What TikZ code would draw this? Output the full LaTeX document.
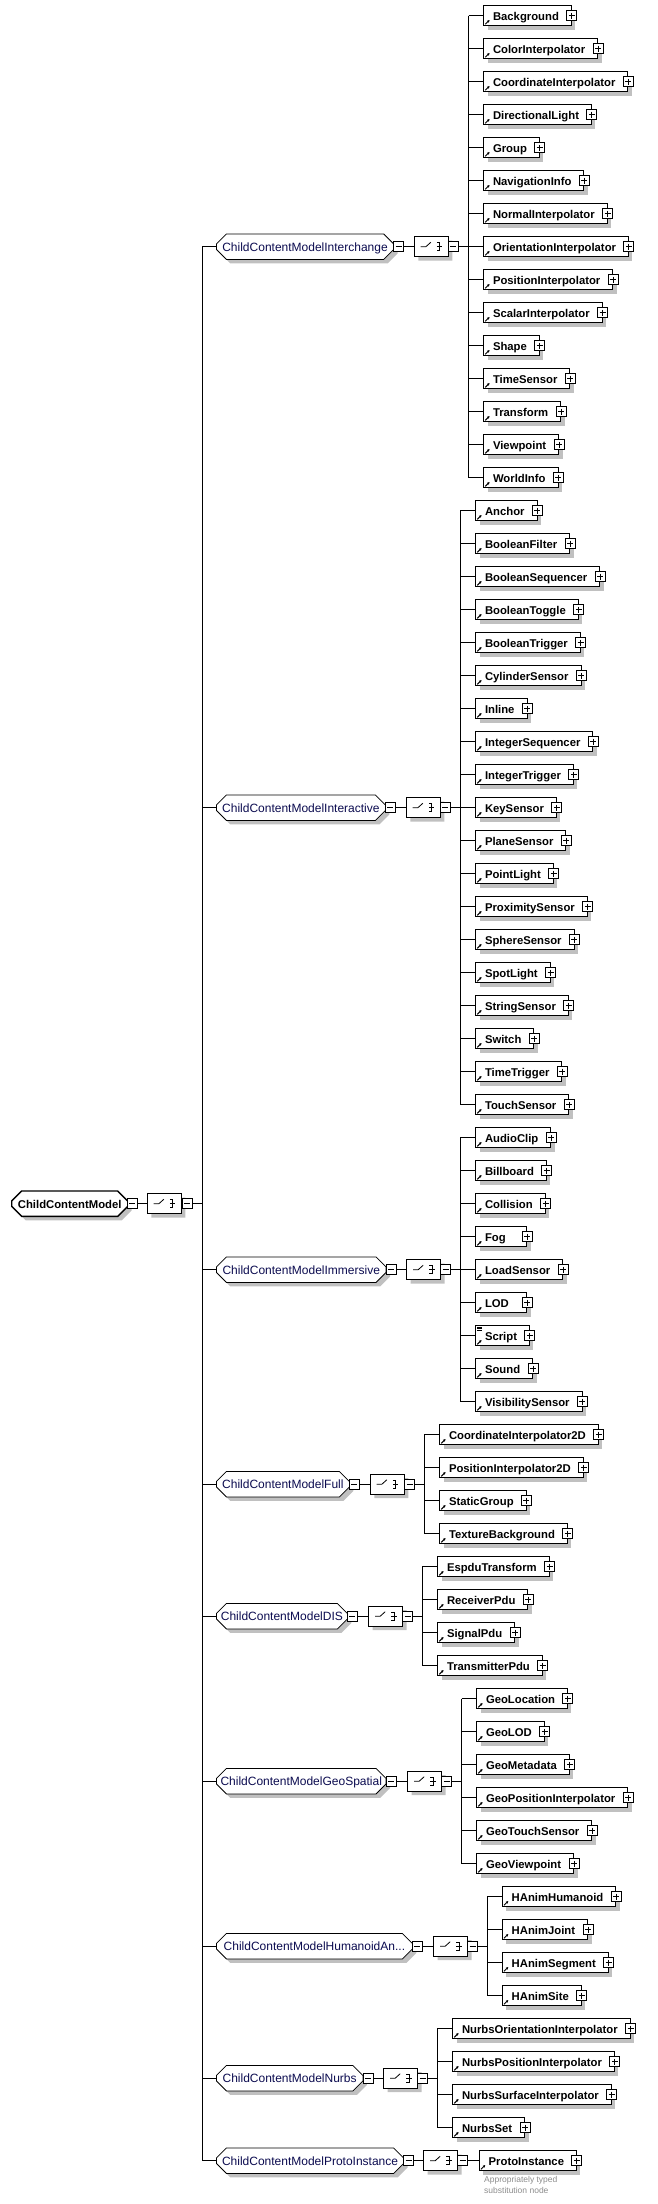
\documentclass[tikz,border=0pt]{standalone}
\usepackage{fontspec}
\setmainfont{Liberation Sans}
\usetikzlibrary{shapes.misc,shadows,arrows.meta,calc}
\definecolor{grptext}{RGB}{12,12,80}
\definecolor{shadegray}{RGB}{192,192,192}
\newsavebox\elembox
\newcommand\elemname[1]{\sbox\elembox{#1}\ifdim\wd\elembox<29.3pt\makebox[29.3pt][l]{#1}\else\usebox\elembox\fi\kern3.1pt}
\tikzset{
  boxshadow/.style={drop shadow={shadow xshift=4pt, shadow yshift=-4pt, fill=shadegray, opacity=1}},
  conn/.style={line width=.8pt},
  plusbox/.style={draw, line width=.8pt, fill=white, minimum size=10pt, inner sep=0pt,
    path picture={\draw[line width=.8pt] ([xshift=2pt]path picture bounding box.west) -- ([xshift=-2pt]path picture bounding box.east)
      ([yshift=-2pt]path picture bounding box.north) -- ([yshift=2pt]path picture bounding box.south);}},
  minusbox/.style={draw, line width=.8pt, fill=white, minimum size=10pt, inner sep=0pt, anchor=west,
    path picture={\draw[line width=.8pt] ([xshift=2pt]path picture bounding box.west) -- ([xshift=-2pt]path picture bounding box.east);}},
  elem/.style={draw, line width=.8pt, fill=white, boxshadow, anchor=west,
    minimum height=20pt, inner xsep=9.3pt, inner ysep=0pt, text height=11.4pt, text depth=2pt,
    font=\fontsize{11.3}{13}\selectfont\bfseries,
    path picture={\draw[line width=.9pt, -{Latex[length=2.6pt, width=2.8pt]}]
      ([shift={(1.6pt,1.4pt)}]path picture bounding box.south west) -- ++(4.4pt,4.4pt);},
    append after command={node[plusbox] (\tikzlastnode-plus) at (\tikzlastnode.east) {}}},
  grp/.style={chamfered rectangle, chamfered rectangle xsep=4pt, chamfered rectangle ysep=6pt,
    draw, line width=.8pt, fill=white, boxshadow, anchor=west, minimum width=#1, minimum height=20pt,
    inner sep=0pt, text height=11.4pt, text depth=2pt, font=\fontsize{12}{14}\selectfont, text=grptext},
  root/.style={grp=116pt, line width=1.4pt, text=black, font=\fontsize{11.3}{13}\selectfont\bfseries},
  comp/.style={chamfered rectangle, chamfered rectangle xsep=4pt, chamfered rectangle ysep=6pt,
    draw, line width=.8pt, fill=white, boxshadow, anchor=west, minimum width=34pt, minimum height=20pt, inner sep=0pt,
    path picture={
      \coordinate (cc) at (path picture bounding box.center);
      \draw[line width=.8pt] ($(cc)+(-10.7pt,0)$) -- ($(cc)+(-5.5pt,0)$) -- ($(cc)+(-.5pt,4.5pt)$);
      \fill ($(cc)+(2.5pt,2.6pt)$) rectangle ++(3pt,3pt);
      \fill ($(cc)+(2.5pt,-1.5pt)$) rectangle ++(3pt,3pt);
      \fill ($(cc)+(2.5pt,-5.6pt)$) rectangle ++(3pt,3pt);
      \draw[line width=.8pt] ($(cc)+(5.4pt,4.1pt)$) -- ($(cc)+(8.4pt,4.1pt)$) -- ($(cc)+(8.4pt,-4.1pt)$) -- ($(cc)+(5.4pt,-4.1pt)$)
        ($(cc)+(5.4pt,0)$) -- ($(cc)+(11pt,0)$);}},
  note/.style={anchor=north west, align=left, inner sep=0pt, text=black!45, font=\fontsize{8.5}{11}\selectfont}
}
\begin{document}
\begin{tikzpicture}[x=1pt, y=-1pt]
\useasboundingbox (0,0) rectangle (658,2204);

% root
\node[root] (ccm) at (11,1203.7) {ChildContentModel};
\node[minusbox] (ccm-m) at (127,1203.7) {};
\node[comp] (ccm-c) at (147,1203.7) {};
\node[minusbox] (ccm-cm) at (182,1203.7) {};
\coordinate (ccm-bus) at (202,1203.7);

% groups
\node[grp=177.3pt] (ic) at (216,246.7) {ChildContentModelInterchange};
\node[minusbox] (ic-m) at (393.3,246.7) {};
\node[comp] (ic-c) at (414,246.7) {};
\node[minusbox] (ic-cm) at (448,246.7) {};
\coordinate (ic-bus) at (468.7,246.7);

\node[grp=169pt] (ia) at (216,807.7) {ChildContentModelInteractive};
\node[minusbox] (ia-m) at (385,807.7) {};
\node[comp] (ia-c) at (406,807.7) {};
\node[minusbox] (ia-cm) at (440,807.7) {};
\coordinate (ia-bus) at (460.3,807.7);

\node[grp=169.7pt] (im) at (216,1269.7) {ChildContentModelImmersive};
\node[minusbox] (im-m) at (385.7,1269.7) {};
\node[comp] (im-c) at (406.3,1269.7) {};
\node[minusbox] (im-cm) at (440.3,1269.7) {};
\coordinate (im-bus) at (460.3,1269.7);

\node[grp=133pt] (fu) at (216,1484.2) {ChildContentModelFull};
\node[minusbox] (fu-m) at (349,1484.2) {};
\node[comp] (fu-c) at (370,1484.2) {};
\node[minusbox] (fu-cm) at (404.3,1484.2) {};
\coordinate (fu-bus) at (424.3,1484.2);

\node[grp=131pt] (dis) at (216,1616.2) {ChildContentModelDIS};
\node[minusbox] (dis-m) at (347,1616.2) {};
\node[comp] (dis-c) at (368.3,1616.2) {};
\node[minusbox] (dis-cm) at (402.3,1616.2) {};
\coordinate (dis-bus) at (422.3,1616.2);

\node[grp=169.7pt] (geo) at (216,1781.2) {ChildContentModelGeoSpatial};
\node[minusbox] (geo-m) at (385.7,1781.2) {};
\node[comp] (geo-c) at (407.3,1781.2) {};
\node[minusbox] (geo-cm) at (441.3,1781.2) {};
\coordinate (geo-bus) at (461.7,1781.2);

\node[grp=196pt] (ha) at (216,1946.2) {ChildContentModelHumanoidAn...};
\node[minusbox] (ha-m) at (412,1946.2) {};
\node[comp] (ha-c) at (433.3,1946.2) {};
\node[minusbox] (ha-cm) at (467.3,1946.2) {};
\coordinate (ha-bus) at (487,1946.2);

\node[grp=146.5pt] (nu) at (216,2078.2) {ChildContentModelNurbs};
\node[minusbox] (nu-m) at (362.5,2078.2) {};
\node[comp] (nu-c) at (383.3,2078.2) {};
\node[minusbox] (nu-cm) at (417.3,2078.2) {};
\coordinate (nu-bus) at (437.3,2078.2);

\node[grp=187.3pt] (pi) at (216,2160.7) {ChildContentModelProtoInstance};
\node[minusbox] (pi-m) at (403.3,2160.7) {};
\node[comp] (pi-c) at (423.3,2160.7) {};
\node[minusbox] (pi-cm) at (457.3,2160.7) {};

% elements
\foreach \t [count=\i from 0] in {Background,ColorInterpolator,CoordinateInterpolator,DirectionalLight,Group,NavigationInfo,NormalInterpolator,OrientationInterpolator,PositionInterpolator,ScalarInterpolator,Shape,TimeSensor,Transform,Viewpoint,WorldInfo}
  \node[elem] (ic-\i) at (483.3,{15.7+33*\i}) {\elemname{\t}};
\foreach \t [count=\i from 0] in {Anchor,BooleanFilter,BooleanSequencer,BooleanToggle,BooleanTrigger,CylinderSensor,Inline,IntegerSequencer,IntegerTrigger,KeySensor,PlaneSensor,PointLight,ProximitySensor,SphereSensor,SpotLight,StringSensor,Switch,TimeTrigger,TouchSensor}
  \node[elem] (ia-\i) at (475.3,{510.7+33*\i}) {\elemname{\t}};
\foreach \t [count=\i from 0] in {AudioClip,Billboard,Collision,Fog,LoadSensor,LOD,Script,Sound,VisibilitySensor}
  \node[elem] (im-\i) at (475.3,{1137.7+33*\i}) {\elemname{\t}};
\foreach \t [count=\i from 0] in {CoordinateInterpolator2D,PositionInterpolator2D,StaticGroup,TextureBackground}
  \node[elem] (fu-\i) at (439.3,{1434.7+33*\i}) {\elemname{\t}};
\foreach \t [count=\i from 0] in {EspduTransform,ReceiverPdu,SignalPdu,TransmitterPdu}
  \node[elem] (dis-\i) at (437.3,{1566.7+33*\i}) {\elemname{\t}};
\foreach \t [count=\i from 0] in {GeoLocation,GeoLOD,GeoMetadata,GeoPositionInterpolator,GeoTouchSensor,GeoViewpoint}
  \node[elem] (geo-\i) at (476.3,{1698.7+33*\i}) {\elemname{\t}};
\foreach \t [count=\i from 0] in {HAnimHumanoid,HAnimJoint,HAnimSegment,HAnimSite}
  \node[elem] (ha-\i) at (502,{1896.7+33*\i}) {\elemname{\t}};
\foreach \t [count=\i from 0] in {NurbsOrientationInterpolator,NurbsPositionInterpolator,NurbsSurfaceInterpolator,NurbsSet}
  \node[elem] (nu-\i) at (452.3,{2028.7+33*\i}) {\elemname{\t}};
\node[elem] (pi-0) at (479,2160.7) {\elemname{ProtoInstance}};
\node[note] (pi-note) at (484,2176.5) {Appropriately typed\\substitution node};

% Script carries a documentation mark
\draw[line width=.5pt] ([shift={(1.5pt,-1.6pt)}]im-6.north west) -- ++(5pt,0)
  ([shift={(1.5pt,-3.3pt)}]im-6.north west) -- ++(5pt,0)
  ([shift={(1.5pt,-5pt)}]im-6.north west) -- ++(5pt,0);

% connectors
\draw[conn] (ccm-m.east) -- (ccm-c.west) (ccm-cm.east) -- (ccm-bus);
\draw[conn] (ccm-bus |- ic.west) -- (ccm-bus |- pi.west);
\foreach \g in {ic,ia,im,fu,dis,geo,ha,nu,pi}
  \draw[conn] (ccm-bus |- \g.west) -- (\g.west) (\g-m.east) -- (\g-c.west);
\foreach \g/\n in {ic/14,ia/18,im/8,fu/3,dis/3,geo/5,ha/3,nu/3} {
  \draw[conn] (\g-cm.east) -- (\g-bus);
  \draw[conn] (\g-bus |- \g-0.west) -- (\g-bus |- \g-\n.west);
  \foreach \i in {0,...,\n}
    \draw[conn] (\g-bus |- \g-\i.west) -- (\g-\i.west);
}
\draw[conn] (pi-cm.east) -- (pi-0.west);
\end{tikzpicture}
\end{document}
